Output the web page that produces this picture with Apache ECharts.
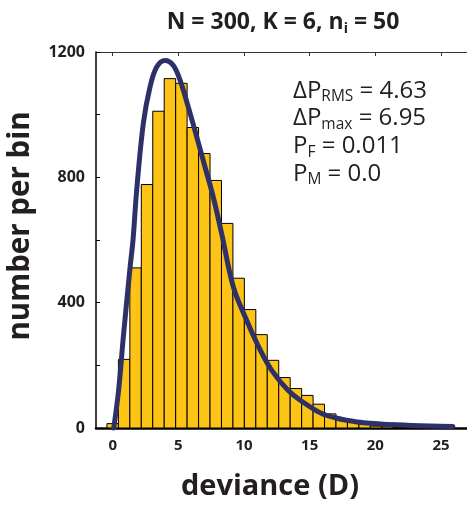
<!DOCTYPE html>
<html>
<head>
<meta charset="utf-8">
<script src="https://cdn.jsdelivr.net/npm/echarts@6/dist/echarts.min.js"></script>
<style>
html,body{margin:0;padding:0;background:#fff;}
#chart{width:467px;height:505px;}
</style>
</head>
<body>
<div id="chart"></div>
<script>
// ---- data ----
const binStart = -0.436;
const binWidth = 0.872;
const counts = [14, 219, 511, 777, 1011, 1115, 1100, 959, 876, 790, 653, 478, 378, 298, 216, 161, 126, 104, 76, 45, 30, 18, 11, 6, 4, 2, 1];
const curveX = [0.08, 0.45, 0.81, 1.32, 1.55, 1.83, 2.33, 2.84, 3.35, 3.98, 4.62, 5.13, 5.76, 6.40, 7.03, 7.66, 8.30, 9.19, 10.2, 11.22, 12.11, 13.37, 14.65, 15.92, 17.0, 17.8, 19.1, 21.6, 24.2, 25.9];
const curveY = [0, 120, 290, 511, 601, 760, 971, 1088, 1152, 1173, 1157, 1110, 1024, 929, 833, 737, 620, 450, 344, 250, 184, 120, 78, 46, 32, 25, 17, 10, 6, 5];
const xTicks = [0, 5, 10, 15, 20, 25];
const yTicks = [0, 400, 800, 1200];
const titleText = '{m|N = 300, K = 6, n}{s|i}{m| = 50}';
const statsText = '{m|ΔP}{s|RMS}{m| = 4.63}\n{m|ΔP}{s|max}{m| = 6.95}\n{m|P}{s|F}{m| = 0.011}\n{m|P}{s|M}{m| = 0.0}';

const FONT = '"Open Sans", "Noto Sans", sans-serif';
const INK = '#231f20';

const bins = counts.map((c, i) => [binStart + i * binWidth, binStart + (i + 1) * binWidth, c]);
const curve = curveX.map((x, i) => [x, curveY[i]]);

const chart = echarts.init(document.getElementById('chart'), null, {renderer: 'canvas'});
chart.setOption({
  animation: false,
  backgroundColor: '#fff',
  grid: {left: 96, right: 0, top: 52, bottom: 77, containLabel: false},
  xAxis: [{
    type: 'value', gridIndex: 0, min: -1.27, max: 26.98, position: 'bottom',
    axisLine: {show: true, onZero: false, lineStyle: {color: '#000', width: 2.5}},
    axisTick: {show: false},
    splitLine: {show: false},
    axisLabel: {customValues: xTicks, fontFamily: FONT, fontWeight: 'bold', fontSize: 15, color: INK, margin: 10}
  }, {
    type: 'value', gridIndex: 0, min: -1.27, max: 26.98, position: 'top',
    axisLine: {show: true, onZero: false, lineStyle: {color: '#333', width: 1.2}},
    axisTick: {show: true, inside: true, length: 4, customValues: xTicks, lineStyle: {color: '#333', width: 1}},
    axisLabel: {show: false},
    splitLine: {show: false}
  }],
  yAxis: {
    type: 'value', gridIndex: 0, min: 0, max: 1200, interval: 200, position: 'left',
    axisLine: {show: true, onZero: false, lineStyle: {color: '#000', width: 1.5}},
    axisTick: {show: true, inside: true, length: 4, lineStyle: {color: '#000', width: 1}},
    splitLine: {show: false},
    axisLabel: {
      fontFamily: FONT, fontWeight: 'bold', fontSize: 16, color: INK, margin: 11,
      formatter: v => yTicks.indexOf(v) >= 0 ? String(v) : ''
    }
  },
  series: [{
    type: 'custom',
    xAxisIndex: 0,
    data: bins,
    clip: true,
    renderItem: function (params, api) {
      const p0 = api.coord([api.value(0), api.value(2)]);
      const p1 = api.coord([api.value(1), 0]);
      return {
        type: 'rect',
        shape: {x: p0[0], y: p0[1], width: p1[0] - p0[0], height: p1[1] - p0[1]},
        style: {fill: '#fdc315', stroke: '#000', lineWidth: 1}
      };
    },
    z: 2
  }, {
    type: 'line',
    xAxisIndex: 0,
    data: curve,
    smooth: 0.35,
    showSymbol: false,
    clip: false,
    lineStyle: {color: '#2e3168', width: 5, cap: 'round'},
    z: 3
  }],
  graphic: [{
    type: 'text', x: 283, y: 22,
    style: {
      text: titleText, align: 'center', verticalAlign: 'middle',
      rich: {
        m: {fontFamily: FONT, fontWeight: 'bold', fontSize: 23, lineHeight: 28, fill: INK},
        s: {fontFamily: FONT, fontWeight: 'bold', fontSize: 14, lineHeight: 12, verticalAlign: 'bottom', fill: INK}
      }
    }
  }, {
    type: 'text', x: 293, y: 77,
    style: {
      text: statsText, align: 'left', verticalAlign: 'top',
      rich: {
        m: {fontFamily: FONT, fontSize: 24, lineHeight: 27.7, fill: INK},
        s: {fontFamily: FONT, fontSize: 15.5, lineHeight: 12, verticalAlign: 'bottom', fill: INK}
      }
    }
  }, {
    type: 'text', x: 21, y: 226, rotation: Math.PI / 2,
    style: {text: 'number per bin', align: 'center', verticalAlign: 'middle',
      fontFamily: FONT, fontWeight: 'bold', fontSize: 29.5, fill: INK}
  }, {
    type: 'text', x: 270, y: 487,
    style: {text: 'deviance (D)', align: 'center', verticalAlign: 'middle',
      fontFamily: FONT, fontWeight: 'bold', fontSize: 29, fill: INK}
  }]
});
</script>
</body>
</html>
